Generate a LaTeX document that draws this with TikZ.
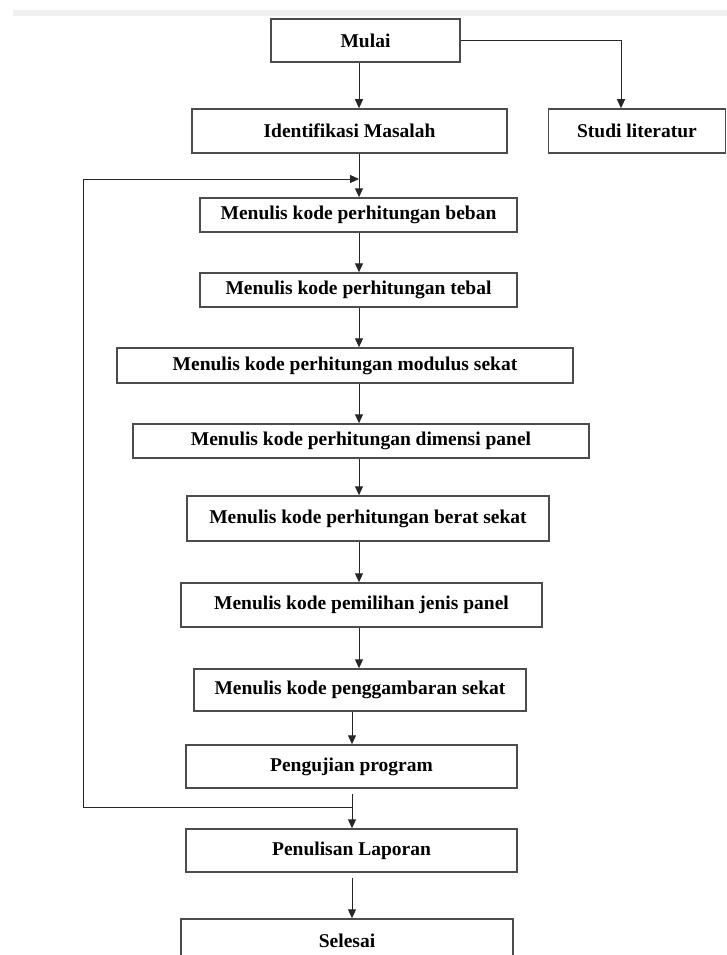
\documentclass[tikz,border=0pt]{standalone}
\usepackage{fontspec}
\setmainfont{Liberation Serif}
\usetikzlibrary{arrows.meta, positioning}

\begin{document}
\begin{tikzpicture}[x=1pt, y=-1pt, >={Triangle[length=9pt,width=8pt]},
    box/.style={draw=black!70, line width=1.5pt, fill=white, inner sep=0pt,
        font=\fontsize{19.5}{22}\selectfont\bfseries},
    flow/.style={line width=1pt, black!85}]

    \useasboundingbox (0,0) rectangle (727,955);
    \fill[black!6] (13,10) rectangle (727,16);

    \coordinate (spine) at (359,0);
    \coordinate (spinelow) at (352,0);
    \coordinate (studix) at (621,0);
    \coordinate (loopx) at (83,0);
    \coordinate (jtop) at (359,179);
    \coordinate (jlow) at (352,807);

    \node [box, minimum width=189, minimum height=43] (mulai) at (365.5, 40.5) {Mulai};
    \node [box, minimum width=315, minimum height=44] (ident) at (349.5, 131) {Identifikasi Masalah};
    \node [box, minimum width=177, minimum height=44] (studi) at (637, 131) {Studi literatur};
    \node [box, minimum width=317, minimum height=34] (beban) at (358.5, 215) {Menulis kode perhitungan beban};
    \node [box, minimum width=317, minimum height=34] (tebal) at (358.5, 290) {Menulis kode perhitungan tebal};
    \node [box, minimum width=456, minimum height=35] (modulus) at (345, 365.5) {Menulis kode perhitungan modulus sekat};
    \node [box, minimum width=456, minimum height=34] (dimensi) at (361, 441) {Menulis kode perhitungan dimensi panel};
    \node [box, minimum width=362, minimum height=45] (berat) at (368, 518.5) {Menulis kode perhitungan berat sekat};
    \node [box, minimum width=361, minimum height=44] (pemilihan) at (361.5, 605) {Menulis kode pemilihan jenis panel};
    \node [box, minimum width=332, minimum height=42] (gambar) at (360, 690) {Menulis kode penggambaran sekat};
    \node [box, minimum width=331, minimum height=43] (uji) at (351.5, 766.5) {Pengujian program};
    \node [box, minimum width=331, minimum height=43] (laporan) at (351.5, 850.5) {Penulisan Laporan};
    \node [box, minimum width=332, minimum height=44] (selesai) at (347, 941) {Selesai};

 \path[->, flow]
      (mulai.south -| spine) edge (ident.north -| spine)
      (ident.south -| spine) edge (beban.north -| spine)
      (beban.south -| spine) edge (tebal.north -| spine)
      (tebal.south -| spine) edge (modulus.north -| spine)
      (modulus.south -| spine) edge (dimensi.north -| spine)
      (dimensi.south -| spine) edge (berat.north -| spine)
      (berat.south -| spine) edge (pemilihan.north -| spine)
      (pemilihan.south -| spine) edge (gambar.north -| spine)
      (gambar.south -| spinelow) edge (uji.north -| spinelow);

    \draw[->, flow, shorten <=5pt] (uji.south -| spinelow) -- (laporan.north -| spinelow);
    \draw[->, flow, shorten <=5pt] (laporan.south -| spinelow) -- (selesai.north -| spinelow);
    \draw[->, flow] (mulai.east) -| (studi.north -| studix);
    \draw[->, flow] (jlow) -- (jlow -| loopx) |- (jtop);
\end{tikzpicture}
\end{document}
